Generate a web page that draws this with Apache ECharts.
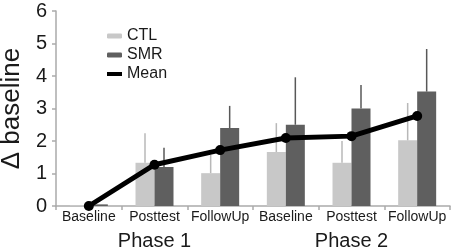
<!DOCTYPE html>
<html>
<head>
<meta charset="utf-8">
<script src="https://cdn.jsdelivr.net/npm/echarts@6/dist/echarts.min.js"></script>
<style>
  html, body { margin: 0; padding: 0; background: #fff; }
  #chart { width: 454px; height: 252px; }
</style>
</head>
<body>
<div id="chart"></div>
<script>
// data
var categories = ['Baseline', 'Posttest', 'FollowUp', 'Baseline', 'Posttest', 'FollowUp'];
var phases = ['Phase 1', 'Phase 2'];
var ctl = [0.03, 1.33, 1.01, 1.66, 1.33, 2.02];
var ctlTop = [0.03, 2.24, 1.57, 2.55, 2.0, 3.17];
var smr = [0.05, 1.2, 2.4, 2.5, 3.0, 3.52];
var smrTop = [0.05, 1.79, 3.08, 3.96, 3.72, 4.83];
var mean = [0, 1.27, 1.72, 2.09, 2.15, 2.77];
var yTicks = [0, 6, 1]; // min, max, step

var font = 'Liberation Sans, Arial, sans-serif';
var BAR_W = 19;

function errData(vals, tops) {
  var out = [];
  for (var i = 0; i < vals.length; i++) {
    out.push([i, vals[i], tops[i]]);
  }
  return out;
}

// one-sided error bar: a plain line from bar top upward
function errRenderer(shift, color) {
  return function(params, api) {
    var a = api.coord([api.value(0), api.value(1)]);
    var b = api.coord([api.value(0), api.value(2)]);
    return {
      type: 'line',
      shape: { x1: a[0] + shift, y1: a[1], x2: b[0] + shift, y2: b[1] },
      style: { stroke: color, lineWidth: 1.5 }
    };
  };
}

var myChart = echarts.init(document.getElementById('chart'), null, { renderer: 'canvas' });

var option = {
  animation: false,
  textStyle: { fontFamily: font },
  grid: { left: 56, right: 4, top: 11, bottom: 46, containLabel: false, outerBoundsMode: 'none' },
  legend: {
    orient: 'vertical',
    left: 100,
    top: 23,
    itemWidth: 15,
    itemHeight: 5,
    itemGap: 3,
    data: ['CTL', 'SMR', { name: 'Mean', lineStyle: { width: 4 } }],
    textStyle: { fontSize: 16, color: '#1a1a1a', fontFamily: font }
  },
  xAxis: [{
    type: 'category',
    data: categories,
    boundaryGap: true,
    axisLine: { lineStyle: { color: '#aaaaaa', width: 1.5 } },
    axisTick: { show: true, length: 4, lineStyle: { color: '#aaaaaa', width: 1.5 } },
    axisLabel: { fontSize: 14, color: '#1a1a1a', margin: 4, fontFamily: font, interval: 0 }
  }, {
    type: 'category',
    data: phases,
    position: 'bottom',
    offset: 22,
    axisLine: { show: false },
    axisTick: { show: false },
    axisLabel: { fontSize: 20, color: '#1a1a1a', margin: 3, fontFamily: font }
  }],
  yAxis: {
    type: 'value',
    min: yTicks[0],
    max: yTicks[1],
    interval: yTicks[2],
    name: 'Δ baseline',
    nameLocation: 'middle',
    nameRotate: 90,
    nameGap: 28,
    nameTextStyle: { fontSize: 26, color: '#1a1a1a', fontFamily: font },
    axisLine: { show: true, lineStyle: { color: '#aaaaaa', width: 1.5 } },
    axisTick: { show: true, length: 4, lineStyle: { color: '#aaaaaa', width: 1.5 } },
    axisLabel: { fontSize: 20, color: '#1a1a1a', margin: 9, fontFamily: font },
    splitLine: { show: false }
  },
  series: [{
    name: 'CTL',
    type: 'bar',
    data: ctl,
    barWidth: BAR_W,
    barGap: 0,
    itemStyle: { color: '#c8c8c8' },
    z: 2
  }, {
    name: 'SMR',
    type: 'bar',
    data: smr,
    barWidth: BAR_W,
    barGap: 0,
    itemStyle: { color: '#5f5f5f' },
    z: 2
  }, {
    name: 'errCTL',
    type: 'custom',
    data: errData(ctl, ctlTop),
    encode: { x: 0, y: [1, 2] },
    renderItem: errRenderer(-BAR_W / 2, '#b8b8b8'),
    z: 3
  }, {
    name: 'errSMR',
    type: 'custom',
    data: errData(smr, smrTop),
    encode: { x: 0, y: [1, 2] },
    renderItem: errRenderer(BAR_W / 2, '#585858'),
    z: 3
  }, {
    name: 'Mean',
    type: 'line',
    data: mean,
    symbol: 'circle',
    symbolSize: 10,
    lineStyle: { color: '#000', width: 5 },
    itemStyle: { color: '#000' },
    z: 5
  }]
};

myChart.setOption(option);
</script>
</body>
</html>
